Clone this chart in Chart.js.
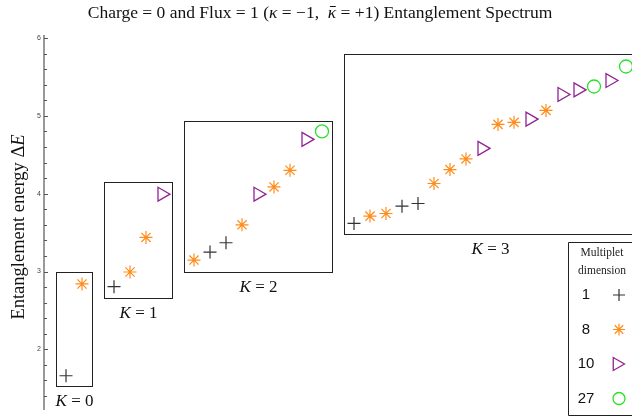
<!DOCTYPE html>
<html>
<head>
<meta charset="utf-8">
<script src="https://cdn.jsdelivr.net/npm/chart.js@4.4.1/dist/chart.umd.min.js"></script>
<style>
html, body { margin: 0; padding: 0; background: #fff; }
#wrap { width: 632px; height: 418px; }
</style>
</head>
<body>
<div id="wrap"><canvas id="chart"></canvas></div>
<script>
// level slot along the spectrum (one empty slot between K sectors) and energies
const singletX = [0, 3, 9, 10, 18, 21, 22];
const singletE = [1.66, 2.805, 3.25, 3.37, 3.618, 3.84, 3.874];
const octetX = [1, 4, 5, 8, 11, 13, 14, 19, 20, 23, 24, 25, 27, 28, 30];
const octetE = [2.84, 2.994, 3.438, 3.147, 3.6, 4.087, 4.301, 3.712, 3.746, 4.131, 4.31, 4.447, 4.891, 4.917, 5.071];
const decupletX = [6, 12, 15, 26, 29, 31, 32, 34];
const decupletE = [3.994, 3.994, 4.699, 4.583, 4.959, 5.276, 5.335, 5.455];
const plet27X = [16, 33, 35];
const plet27E = [4.801, 5.378, 5.635];

// momentum sectors (boxes)
const sectorNames = ['0', '1', '2', '3'];
const sectorFirst = [0, 3, 8, 18];
const sectorLast = [1, 6, 16, 35];
const sectorTop = [3.0, 4.15, 4.94, 5.79];
const sectorBottom = [1.53, 2.66, 3.0, 3.48];

const yTickLabels = [2, 3, 4, 5, 6];
const legendDims = ['1', '8', '10', '27'];

const SERIF = '"Liberation Serif", "DejaVu Serif", serif';
const SANS = '"Liberation Sans", Arial, sans-serif';

const zip = (xs, ys) => xs.map((x, i) => ({ x: x, y: ys[i] }));

const styles = [
    { pointStyle: 'cross', radius: 6.5, color: '#333', width: 1.2, rotation: 0 },
    { pointStyle: 'star', radius: 6.5, color: 'rgb(255,140,25)', width: 1.2, rotation: 0 },
    { pointStyle: 'triangle', radius: 8, color: 'rgb(145,35,145)', width: 1.3, rotation: 90 },
    { pointStyle: 'circle', radius: 6.5, color: 'rgb(40,225,40)', width: 1.3, rotation: 0 }
];

function makeSet(label, xs, ys, st) {
    return {
        label: label,
        data: zip(xs, ys),
        pointStyle: st.pointStyle,
        pointRadius: st.radius,
        pointRotation: st.rotation,
        borderColor: st.color,
        backgroundColor: 'rgba(0,0,0,0)',
        pointBorderWidth: st.width,
        borderWidth: st.width
    };
}

// italic symbols mixed with upright text, centred on cx
function mixedText(ctx, parts, cx, cy, size) {
    let total = 0;
    parts.forEach(p => {
        ctx.font = (p.italic ? 'italic ' : '') + size + 'px ' + SERIF;
        p.w = ctx.measureText(p.t).width;
        total += p.w;
    });
    let x = cx - total / 2;
    ctx.textAlign = 'left';
    ctx.textBaseline = 'middle';
    parts.forEach(p => {
        ctx.font = (p.italic ? 'italic ' : '') + size + 'px ' + SERIF;
        ctx.fillText(p.t, x, cy);
        if (p.bar) {
            // overbar (kappa bar)
            ctx.save();
            ctx.strokeStyle = ctx.fillStyle;
            ctx.lineWidth = 1;
            ctx.beginPath();
            ctx.moveTo(x + p.w * 0.25, Math.round(cy - size * 0.42) + 0.5);
            ctx.lineTo(x + p.w * 0.95, Math.round(cy - size * 0.42) + 0.5);
            ctx.stroke();
            ctx.restore();
        }
        x += p.w;
    });
}

const decorPlugin = {
    id: 'decor',
    beforeDatasetsDraw(chart) {
        const ctx = chart.ctx;
        const xs = chart.scales.x, ys = chart.scales.y;
        const area = chart.chartArea;
        ctx.save();
        // sector boxes
        ctx.strokeStyle = '#222';
        ctx.lineWidth = 1;
        for (let i = 0; i < sectorNames.length; i++) {
            const l = Math.round(xs.getPixelForValue(sectorFirst[i] - 0.625)) + 0.5;
            const r = Math.round(xs.getPixelForValue(sectorLast[i] + 0.625)) + 0.5;
            const t = Math.round(ys.getPixelForValue(sectorTop[i])) + 0.5;
            const b = Math.round(ys.getPixelForValue(sectorBottom[i])) + 0.5;
            ctx.strokeRect(l, t, r - l, b - t);
            ctx.fillStyle = '#111';
            mixedText(ctx, [{ t: 'K', italic: true }, { t: ' = ' + sectorNames[i] }], (l + r) / 2, b + 15, 17);
        }
        ctx.restore();

        // y axis
        ctx.save();
        const ax = area.left - 1;
        ctx.strokeStyle = '#999';
        ctx.lineWidth = 2;
        ctx.beginPath();
        ctx.moveTo(ax, area.top);
        ctx.lineTo(ax, area.bottom);
        ctx.stroke();
        ctx.strokeStyle = '#555';
        ctx.lineWidth = 1;
        for (let k = 7; k <= 30; k++) {
            const v = k / 5;
            const py = Math.round(ys.getPixelForValue(v)) + 0.5;
            const len = (k % 5 === 0) ? 4 : 3;
            ctx.beginPath();
            ctx.moveTo(ax, py);
            ctx.lineTo(ax + len, py);
            ctx.stroke();
        }
        ctx.fillStyle = '#444';
        ctx.font = '7px ' + SANS;
        ctx.textAlign = 'right';
        ctx.textBaseline = 'middle';
        yTickLabels.forEach(v => {
            ctx.fillText(String(v), ax - 3, ys.getPixelForValue(v));
        });
        // y title
        ctx.translate(19, 227);
        ctx.rotate(-Math.PI / 2);
        ctx.fillStyle = '#111';
        mixedText(ctx, [{ t: 'Entanglement energy \u0394' }, { t: 'E', italic: true }], 0, 0, 18.5);
        ctx.restore();

        // title
        ctx.save();
        ctx.fillStyle = '#111';
        mixedText(ctx, [
            { t: 'Charge = 0 and Flux = 1 (' },
            { t: '\u03ba', italic: true },
            { t: ' = \u22121,  ' },
            { t: '\u03ba', italic: true, bar: true },
            { t: ' = +1) Entanglement Spectrum' }
        ], 320, 13, 17.5);
        ctx.restore();
    },
    afterDraw(chart) {
        const ctx = chart.ctx;
        ctx.save();
        // legend table
        ctx.fillStyle = '#fff';
        ctx.fillRect(568, 242, 70, 176);
        ctx.strokeStyle = '#222';
        ctx.lineWidth = 1;
        ctx.beginPath();
        ctx.moveTo(640, 242.5);
        ctx.lineTo(568.5, 242.5);
        ctx.lineTo(568.5, 415.5);
        ctx.lineTo(640, 415.5);
        ctx.stroke();
        ctx.fillStyle = '#222';
        ctx.font = '11.5px ' + SERIF;
        ctx.textAlign = 'center';
        ctx.textBaseline = 'middle';
        ctx.fillText('Multiplet', 602, 253);
        ctx.fillText('dimension', 602, 271);
        ctx.font = '15px ' + SANS;
        legendDims.forEach((d, i) => {
            const cy = 295 + i * 34.5;
            ctx.fillStyle = '#111';
            ctx.fillText(d, 586, cy);
            const st = styles[i];
            ctx.strokeStyle = st.color;
            ctx.fillStyle = 'rgba(0,0,0,0)';
            ctx.lineWidth = st.width;
            Chart.helpers.drawPoint(ctx, {
                pointStyle: st.pointStyle,
                rotation: st.rotation,
                radius: st.pointStyle === 'triangle' ? 7.5 : 6,
                borderWidth: st.width
            }, st.pointStyle === 'triangle' ? 617 : 619, cy);
        });
        ctx.restore();
    }
};

new Chart(document.getElementById('chart'), {
    type: 'scatter',
    data: {
        datasets: [
            makeSet('1', singletX, singletE, styles[0]),
            makeSet('8', octetX, octetE, styles[1]),
            makeSet('10', decupletX, decupletE, styles[2]),
            makeSet('27', plet27X, plet27E, styles[3])
        ]
    },
    options: {
        responsive: true,
        maintainAspectRatio: false,
        animation: false,
        events: [],
        layout: { autoPadding: false, padding: { top: 35, left: 45, right: 0, bottom: 8 } },
        plugins: {
            legend: { display: false },
            tooltip: { enabled: false }
        },
        scales: {
            x: { type: 'linear', display: false, min: -1.3125, max: 35.375 },
            y: { type: 'linear', display: false, min: 1.22, max: 6.04 }
        }
    },
    plugins: [decorPlugin]
});
</script>
</body>
</html>
